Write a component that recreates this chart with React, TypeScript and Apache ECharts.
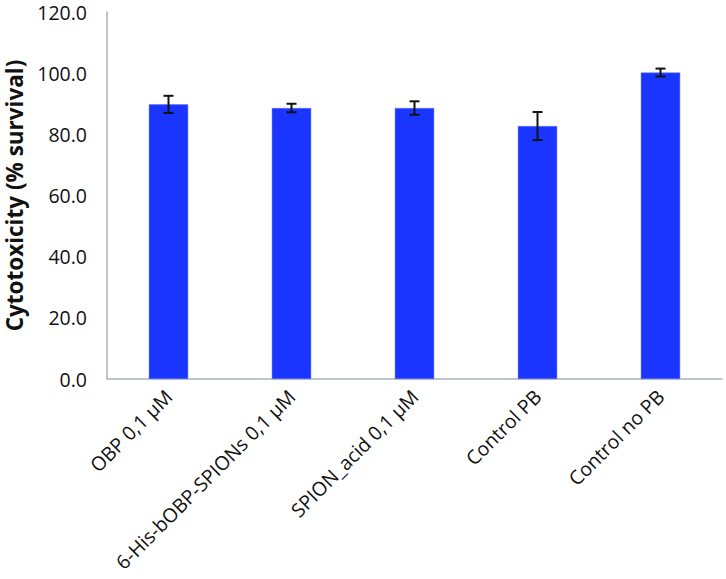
import React, { useEffect, useRef } from "react";
import * as echarts from "echarts";

const categories = [
  "OBP 0,1 µM",
  "6-His-bOBP-SPIONs 0,1 µM",
  "SPION_acid 0,1 µM",
  "Control PB",
  "Control no PB",
];
const values = [89.8, 88.6, 88.6, 82.7, 100.2];
const errors = [2.8, 1.4, 2.2, 4.6, 1.3];
const yTicks = { min: 0, max: 120, interval: 20 };
const yName = "Cytotoxicity (% survival)";

export default function App() {
  const ref = useRef<HTMLDivElement>(null);
  useEffect(() => {
    if (!ref.current) return;
    const chart = echarts.init(ref.current, null, { renderer: "svg" });
    const font = "'Open Sans', 'DejaVu Sans', sans-serif";
    const errData = values.map((v, i) => [i, v - errors[i], v + errors[i]]);
    chart.setOption({
      animation: false,
      backgroundColor: "#ffffff",
      grid: {
        left: 107,
        right: 4,
        top: 12,
        bottom: 200,
        containLabel: false,
        outerBoundsMode: "none",
      },
      xAxis: {
        type: "category",
        data: categories,
        axisLine: { show: true, lineStyle: { color: "#a9b4bb", width: 1.5 } },
        axisTick: { show: false },
        axisLabel: {
          rotate: 45,
          interval: 0,
          margin: 14,
          fontSize: 19.5,
          color: "#111111",
          fontFamily: font,
        },
      },
      yAxis: {
        type: "value",
        min: yTicks.min,
        max: yTicks.max,
        interval: yTicks.interval,
        name: yName,
        nameLocation: "middle",
        nameGap: 80,
        nameTextStyle: {
          fontSize: 22.5,
          fontWeight: "bold",
          color: "#111111",
          fontFamily: font,
        },
        axisLine: { show: true, lineStyle: { color: "#a9b4bb", width: 1.5 } },
        axisTick: { show: false },
        splitLine: { show: false },
        axisLabel: {
          margin: 20,
          fontSize: 19.5,
          color: "#111111",
          fontFamily: font,
          formatter: (v: number) => v.toFixed(1),
        },
      },
      series: [
        {
          type: "bar",
          data: values,
          barWidth: "32%",
          itemStyle: { color: "#1a35ff", borderColor: "#5a74ff", borderWidth: 0.5 },
        },
        {
          type: "custom",
          data: errData,
          z: 10,
          renderItem: (params: any, api: any) => {
            const x = api.value(0);
            const lo = api.coord([x, api.value(1)]);
            const hi = api.coord([x, api.value(2)]);
            const hw = 5;
            const style = { stroke: "#111111", lineWidth: 2 };
            return {
              type: "group",
              children: [
                { type: "line", shape: { x1: lo[0], y1: lo[1], x2: hi[0], y2: hi[1] }, style },
                { type: "line", shape: { x1: hi[0] - hw, y1: hi[1], x2: hi[0] + hw, y2: hi[1] }, style },
                { type: "line", shape: { x1: lo[0] - hw, y1: lo[1], x2: lo[0] + hw, y2: lo[1] }, style },
              ],
            };
          },
        },
      ],
    });
    return () => chart.dispose();
  }, []);
  return (
    <div
      ref={ref}
      style={{ position: "fixed", left: 0, top: 0, width: 726, height: 579 }}
    />
  );
}
